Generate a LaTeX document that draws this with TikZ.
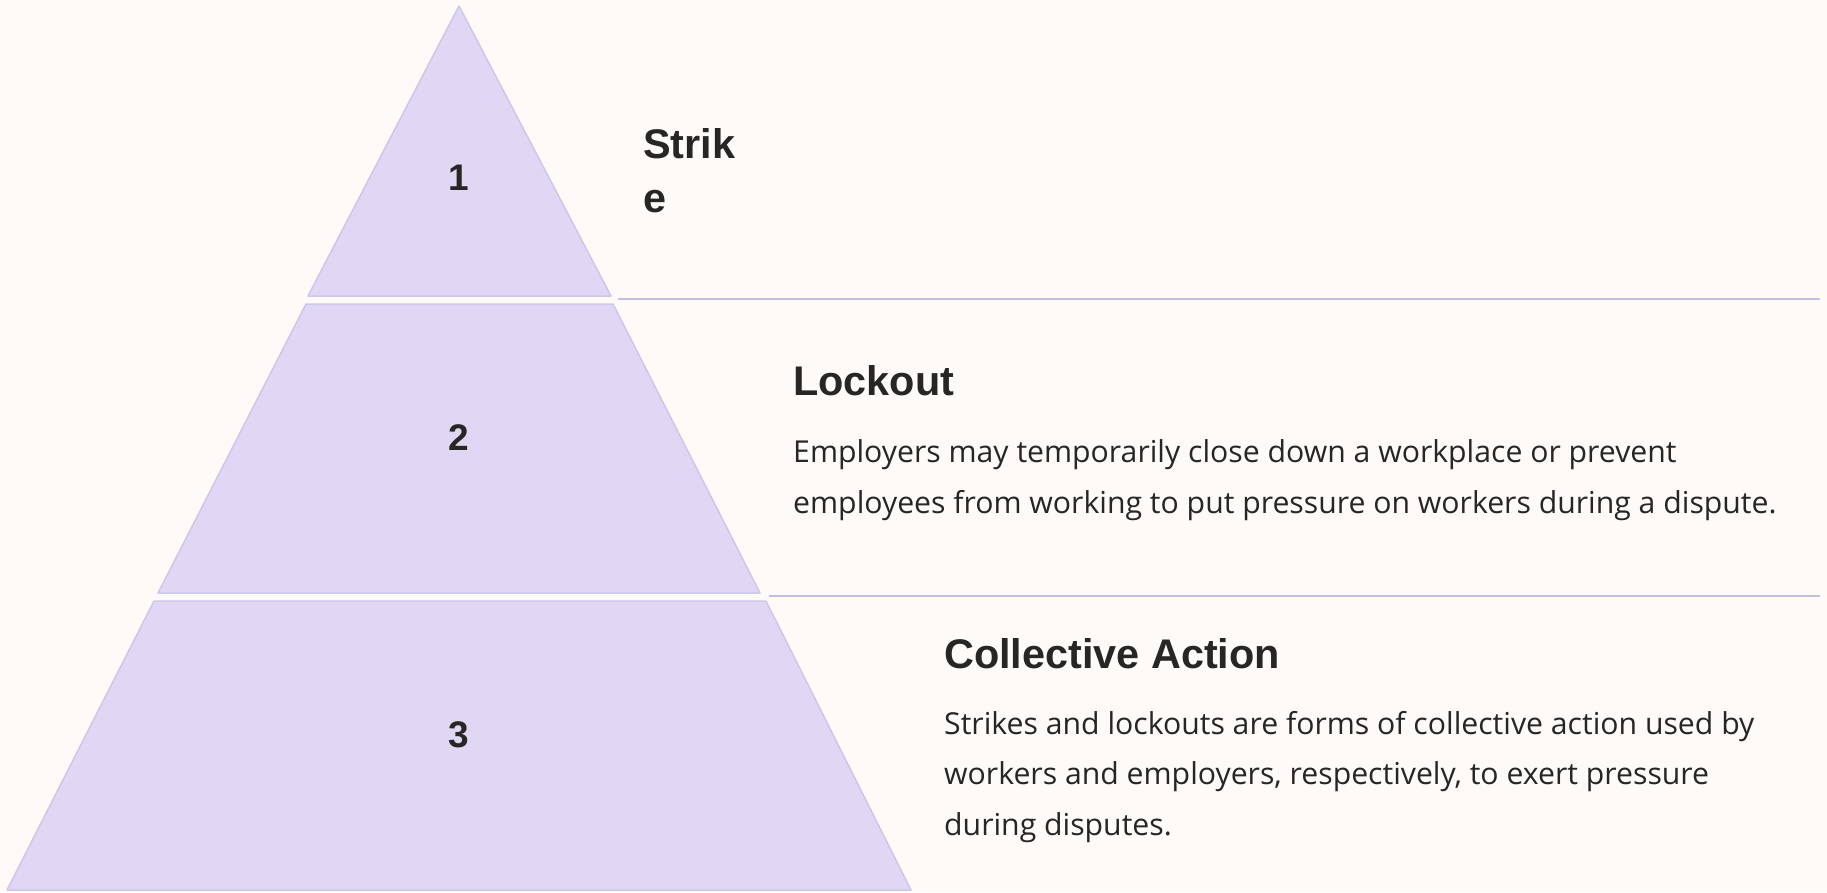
\documentclass[tikz,border=0pt]{standalone}
\usepackage{fontspec}
\setmainfont{Liberation Sans}
\newfontfamily\headfont{Liberation Sans}
\newfontfamily\bodyfont{Open Sans}
\definecolor{pagebg}{RGB}{253,250,247}
\definecolor{tierfill}{RGB}{223,215,243}
\definecolor{tierline}{RGB}{207,199,232}
\definecolor{ruleline}{RGB}{198,190,226}
\definecolor{inkc}{RGB}{40,37,37}
\tikzset{
  tier/.style={fill=tierfill, draw=tierline, line width=1.5pt, line join=round},
  tiernum/.style={text=inkc, font=\headfont\bfseries\fontsize{37}{44}\selectfont, inner sep=0pt},
  % multi-line nodes: the base anchor sits on the last line
  heading/.style={text=inkc, font=\headfont\bfseries\fontsize{41.4}{54}\selectfont, inner sep=0pt, anchor=base west, align=left},
  bodytext/.style={text=inkc, font=\bodyfont\fontsize{30.2}{50.5}\selectfont, inner sep=0pt, anchor=base west, align=left},
  divider/.style={draw=ruleline, line width=2pt}
}
\begin{document}
\begin{tikzpicture}[x=1pt,y=-1pt]
\fill[pagebg] (0,0) rectangle (1827,892);
\useasboundingbox (0,0) rectangle (1827,892);
% pyramid tiers
\path[tier] (459,6) -- (611,296) -- (308,296) -- cycle;
\path[tier] (306,304) -- (613,304) -- (760,593) -- (158,593) -- cycle;
\path[tier] (154,601) -- (766,601) -- (911,890) -- (7,890) -- cycle;
% tier numbers
\node[tiernum] (n1) at (459,178) {1};
\node[tiernum] (n2) at (459,438) {2};
\node[tiernum] (n3) at (459,735) {3};
% dividers
\coordinate (d1a) at (618,299);
\coordinate (d1b) at (1820,299);
\coordinate (d2a) at (769,596);
\coordinate (d2b) at (1820,596);
\draw[divider] (d1a) -- (d1b);
\draw[divider] (d2a) -- (d2b);
% labels
\node[heading] (h1) at (643,212) {Strik\\e};
\node[heading] (h2) at (793,395) {Lockout};
\node[bodytext] (b2) at (793,513) {Employers may temporarily close down a workplace or prevent\\employees from working to put pressure on workers during a dispute.};
\node[heading] (h3) at (944,668) {Collective Action};
\node[bodytext] (b3) at (944,835) {Strikes and lockouts are forms of collective action used by\\workers and employers, respectively, to exert pressure\\during disputes.};
\end{tikzpicture}
\end{document}
